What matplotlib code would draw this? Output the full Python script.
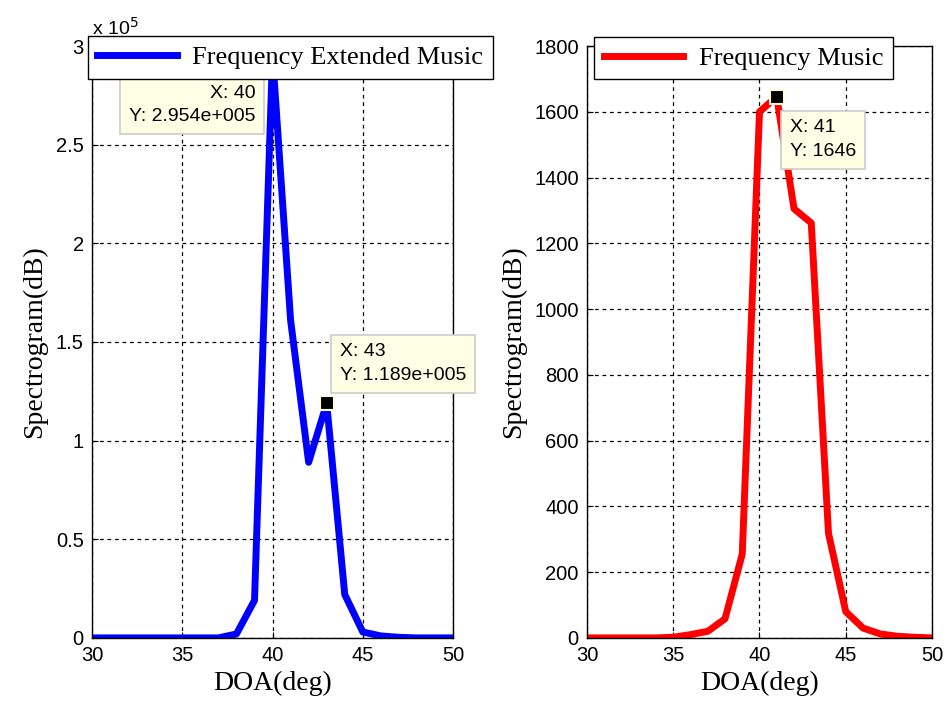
import numpy as np
import matplotlib.pyplot as plt
from matplotlib.ticker import FixedLocator, FuncFormatter

# DOA grid (degrees)
doa = list(range(30, 51))

# Frequency Extended Music spectrum (x 1e5)
ext_music = [0, 0, 0, 0, 0, 0, 0, 0, 0.02, 0.19, 2.954,
             1.61, 0.89, 1.189, 0.22, 0.03, 0.01, 0.003, 0, 0, 0]

# Frequency Music spectrum
freq_music = [0, 0, 0, 0, 0, 2, 10, 20, 58, 255, 1600,
              1646, 1305, 1262, 318, 80, 30, 12, 5, 2, 0]

ext_ticks = [0, 0.5, 1, 1.5, 2, 2.5, 3]
music_ticks = [0, 200, 400, 600, 800, 1000, 1200, 1400, 1600, 1800]
doa_ticks = [30, 35, 40, 45, 50]

serif = ['Liberation Serif', 'DejaVu Serif']
sans = ['Liberation Sans', 'DejaVu Sans']

fig = plt.figure(figsize=(9.46, 7.08), dpi=100)
ax1 = fig.add_axes([0.0973, 0.099, 0.3816, 0.836])
ax2 = fig.add_axes([0.6205, 0.099, 0.3647, 0.836])


def style(ax):
    ax.grid(True, color='black', linestyle=(0, (3, 3)), linewidth=0.9)
    ax.tick_params(direction='in', length=4, labelsize=14.5, pad=6)
    for lab in ax.get_xticklabels() + ax.get_yticklabels():
        lab.set_family(sans)
    ax.set_xlabel('DOA(deg)', family=serif, fontsize=20, labelpad=4)
    ax.set_ylabel('Spectrogram(dB)', family=serif, fontsize=20, labelpad=6)
    for s in ax.spines.values():
        s.set_linewidth(1.0)


def datatip(ax, x, y, text, tx, ty, ha='left'):
    ax.plot([x], [y], marker='s', markersize=10, color='black',
            markeredgecolor='#ffffe0', markeredgewidth=1.5, zorder=6, clip_on=False)
    ax.text(tx, ty, text, ha=ha, va='center', multialignment=ha, fontsize=14, family=sans,
            linespacing=1.5,
            bbox=dict(boxstyle='square,pad=0.45', facecolor='#ffffe6', edgecolor='#cccccc', linewidth=1.2),
            zorder=7)


def legend(ax, label, anchor):
    leg = ax.legend([label], loc='upper left', bbox_to_anchor=anchor, bbox_transform=fig.transFigure,
                    prop={'family': serif, 'size': 19}, frameon=True, fancybox=False,
                    framealpha=1, edgecolor='black', handlelength=3.0, borderpad=0.36,
                    handletextpad=0.6, borderaxespad=0)
    leg.get_frame().set_linewidth(1.0)
    leg.set_zorder(10)


ax1.plot(doa, ext_music, color='#0000ff', linewidth=5, solid_joinstyle='round')
ax1.set_xlim(30, 50)
ax1.set_ylim(0, 3)
ax1.xaxis.set_major_locator(FixedLocator(doa_ticks))
ax1.yaxis.set_major_locator(FixedLocator(ext_ticks))
ax1.yaxis.set_major_formatter(FuncFormatter(lambda v, p: ('%g' % v)))
style(ax1)
ax1.text(0.0, 1.012, r'x 10$^5$', transform=ax1.transAxes, fontsize=14, family=sans,
         ha='left', va='bottom')
datatip(ax1, 40, 2.954, 'X: 40\nY: 2.954e+005', 39.05, 2.70, ha='right')
datatip(ax1, 43, 1.189, 'X: 43\nY: 1.189e+005', 43.75, 1.39)
legend(ax1, 'Frequency Extended Music', (0.093, 0.949))

ax2.plot(doa, freq_music, color='#ff0000', linewidth=5, solid_joinstyle='round')
ax2.set_xlim(30, 50)
ax2.set_ylim(0, 1800)
ax2.xaxis.set_major_locator(FixedLocator(doa_ticks))
ax2.yaxis.set_major_locator(FixedLocator(music_ticks))
style(ax2)
datatip(ax2, 41, 1646, 'X: 41\nY: 1646', 41.75, 1515)
legend(ax2, 'Frequency Music', (0.628, 0.948))

fig.savefig('out.png', dpi=100)
